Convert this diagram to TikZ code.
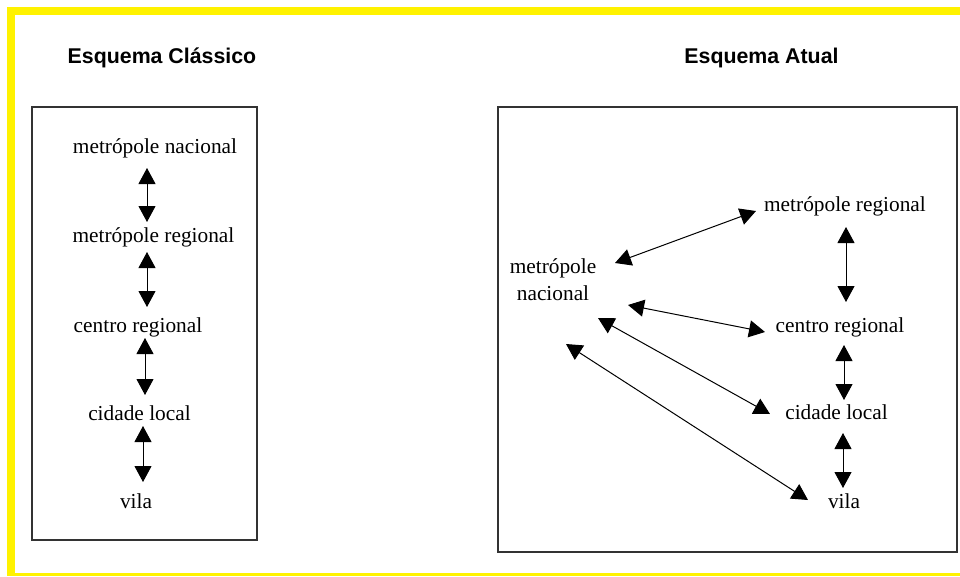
\documentclass[tikz,border=0pt]{standalone}
\usepackage{fontspec}
\setmainfont{Liberation Serif}
\setsansfont{Liberation Sans}
\usetikzlibrary{arrows.meta}

\begin{document}
\begin{tikzpicture}[x=0.75pt,y=-0.75pt,
  lbl/.style={font=\fontsize{16}{20}\selectfont, anchor=base, inner sep=0pt},
  ttl/.style={font=\sffamily\bfseries\fontsize{16}{20}\selectfont, anchor=base, inner sep=0pt},
  dbl/.style={{Triangle[width=12.75pt,length=12pt]}-{Triangle[width=12.75pt,length=12pt]}, line width=0.75pt},
  frame/.style={draw=black!80, line width=1pt}]

\useasboundingbox (0,0) rectangle (960,576);
\fill[white] (0,0) rectangle (960,576);

% yellow border
\fill[yellow] (7,7) rectangle (960,15);
\fill[yellow] (7,7) rectangle (15,576);
\fill[yellow] (7,573) rectangle (960,576);

\draw[frame] (32,107) rectangle (257,540);
\draw[frame] (498,107) rectangle (957,552);

\node[ttl] (tc) at (162,63) {Esquema Clássico};
\node[ttl] (ta) at (761.5,63) {Esquema Atual};

% esquema classico
\node[lbl] (LN) at (155,153)   {metrópole nacional};
\node[lbl] (LR) at (153.5,242) {metrópole regional};
\node[lbl] (LC) at (138,332)   {centro regional};
\node[lbl] (LL) at (139.5,420) {cidade local};
\node[lbl] (LV) at (136,508)   {vila};

\draw[dbl] ([shift={(-8,15)}]LN.base)  -- ([shift={(-6.5,-20)}]LR.base);
\draw[dbl] ([shift={(-6.5,10)}]LR.base) -- ([shift={(9,-25)}]LC.base);
\draw[dbl] ([shift={(7,6)}]LC.base)     -- ([shift={(5.5,-25)}]LL.base);
\draw[dbl] ([shift={(3.5,6)}]LL.base)   -- ([shift={(7,-26)}]LV.base);

% esquema atual
\node[lbl, anchor=center, align=center] (RN) at (553,280) {metrópole\\nacional};
\node[lbl] (RR) at (845,211)   {metrópole regional};
\node[lbl] (RC) at (840,332)   {centro regional};
\node[lbl] (RL) at (836.5,419) {cidade local};
\node[lbl] (RV) at (844,508)   {vila};

\draw[dbl] ([shift={(62,-17)}]RN.center) -- ([shift={(-89,0)}]RR.base);
\draw[dbl] ([shift={(75,25)}]RN.center)  -- ([shift={(-75,0)}]RC.base);
\draw[dbl] ([shift={(45,38)}]RN.center)  -- ([shift={(-66.5,-5)}]RL.base);
\draw[dbl] ([shift={(13,64)}]RN.center)  -- ([shift={(-36,-8)}]RV.base);

\draw[dbl] ([shift={(1,16)}]RR.base)   -- ([shift={(6,-30)}]RC.base);
\draw[dbl] ([shift={(4,13)}]RC.base)   -- ([shift={(7.5,-19)}]RL.base);
\draw[dbl] ([shift={(6.5,14)}]RL.base) -- ([shift={(-1,-20)}]RV.base);

\end{tikzpicture}
\end{document}
